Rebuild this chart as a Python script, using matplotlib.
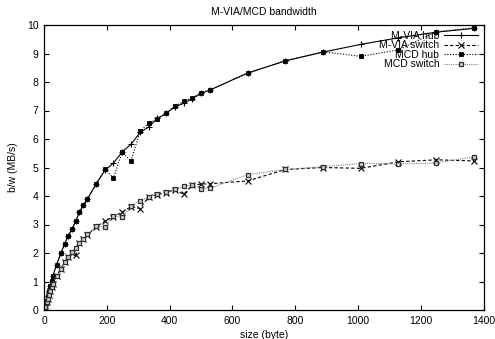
import matplotlib
matplotlib.use("Agg")
import matplotlib.pyplot as plt

plt.rcParams['font.family'] = ['Liberation Sans', 'DejaVu Sans']

# message sizes (bytes)
sizes = [1, 2, 4, 8, 12, 16, 20, 24, 28, 40, 54, 66, 77, 89, 101, 113, 125, 138,
         166, 194, 221, 249, 277, 306, 333, 361, 389, 417, 445, 473, 501, 529,
         649, 769, 889, 1009, 1129, 1250, 1369]

# bandwidth (MB/s)
mvia_hub = [0.04, 0.08, 0.17, 0.33, 0.5, 0.68, 0.85, 1.02, 1.19, 1.59, 1.99, 2.33,
            2.6, 2.83, 3.12, 3.43, 3.67, 3.89, 4.42, 4.9, 5.15, 5.55, 5.81, 6.23,
            6.42, 6.72, 6.9, 7.13, 7.25, 7.42, 7.6, 7.72, 8.32, 8.74, 9.05, 9.32,
            9.55, 9.75, 9.88]
mvia_switch = [0.03, 0.06, 0.12, 0.27, 0.4, 0.53, 0.67, 0.8, 0.92, 1.2, 1.45, 1.68,
               1.85, 2.0, 1.93, 2.34, 2.49, 2.63, 2.92, 3.12, 3.27, 3.43, 3.63, 3.56,
               3.97, 4.05, 4.12, 4.22, 4.06, 4.38, 4.42, 4.43, 4.53, 4.93, 5.0, 4.97,
               5.2, 5.27, 5.23]
mcd_hub = [0.04, 0.08, 0.17, 0.33, 0.5, 0.68, 0.85, 1.02, 1.19, 1.59, 1.99, 2.33,
           2.6, 2.83, 3.12, 3.43, 3.67, 3.89, 4.42, 4.93, 4.63, 5.55, 5.22, 6.27,
           6.55, 6.7, 6.92, 7.15, 7.33, 7.45, 7.62, 7.72, 8.3, 8.75, 9.06, 8.9,
           9.13, 9.76, 9.9]
mcd_switch = [0.03, 0.06, 0.12, 0.27, 0.4, 0.53, 0.67, 0.8, 0.92, 1.2, 1.45, 1.68,
              1.86, 2.02, 2.18, 2.36, 2.5, 2.65, 2.93, 2.92, 3.3, 3.25, 3.65, 3.83,
              3.98, 4.06, 4.13, 4.23, 4.34, 4.39, 4.26, 4.27, 4.75, 4.93, 5.03, 5.14,
              5.13, 5.16, 5.37]

fig = plt.figure(figsize=(4.95, 3.39), dpi=100)
ax = fig.add_axes([44 / 495, 1 - 310 / 339, (483.5 - 44) / 495, (310 - 25) / 339])

lw = 0.8
ax.plot(sizes, mvia_hub, color='black', ls='-', lw=lw, marker='+', ms=4.5,
        mew=0.8, label='M-VIA hub')
ax.plot(sizes, mvia_switch, color='black', ls=(0, (3, 2)), lw=lw, marker='x',
        ms=3.8, mew=0.8, label='M-VIA switch')
ax.plot(sizes, mcd_hub, color='black', ls=(0, (1, 1.5)), lw=lw, marker='s',
        ms=3.0, mew=0.6, mfc='black', label='MCD hub')
ax.plot(sizes, mcd_switch, color='#808080', ls=(0, (1, 1)), lw=lw, marker='s',
        ms=3.4, mew=0.9, mfc='#d0d0d0', mec='#303030', label='MCD switch')

ax.set_xlim(0, 1400)
ax.set_ylim(0, 10)
ax.set_xticks(range(0, 1401, 200))
ax.set_yticks(range(0, 11))
ax.tick_params(direction='in', length=3.5, width=0.8, labelsize=7.5,
               top=True, right=True, pad=4)
for s in ax.spines.values():
    s.set_linewidth(0.9)

ax.set_title('M-VIA/MCD bandwidth', fontsize=7.5, pad=7)
ax.set_xlabel('size (byte)', fontsize=7.5, labelpad=3)
ax.set_ylabel('b/w (MB/s)', fontsize=7.5, labelpad=6)

leg = ax.legend(loc='upper right', frameon=False, markerfirst=False,
                fontsize=7.5, handlelength=3.2, handletextpad=0.5,
                labelspacing=-0.05, borderaxespad=0.15)
for t in leg.get_texts():
    t.set_ha('right')

fig.savefig('out.png', dpi=100)
